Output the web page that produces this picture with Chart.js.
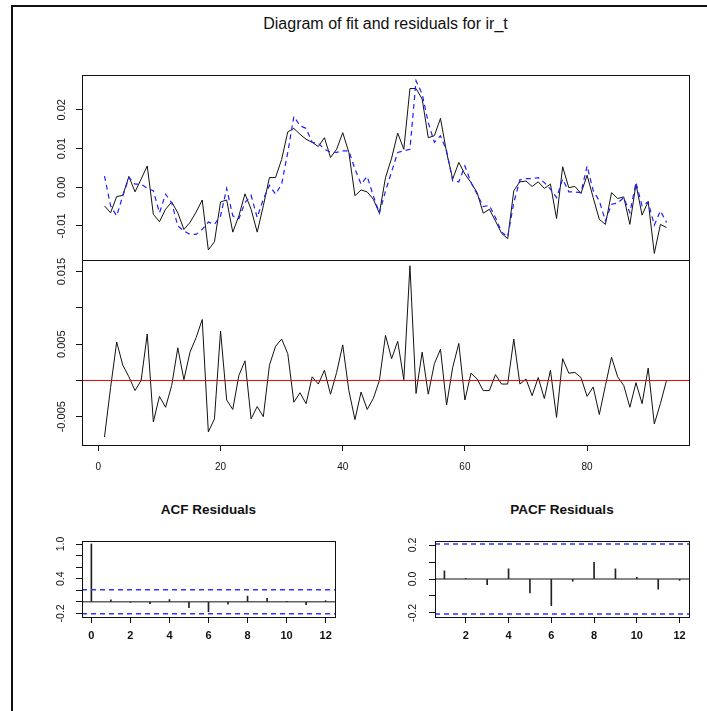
<!DOCTYPE html>
<html>
<head>
<meta charset="utf-8">
<title>Diagram of fit and residuals for ir_t</title>
<script src="https://cdn.jsdelivr.net/npm/chart.js@4.4.1/dist/chart.umd.min.js"></script>
<style>
  html, body { margin: 0; padding: 0; background: #fff; }
  body { position: relative; width: 707px; height: 711px; overflow: hidden; font-family: "Liberation Sans", Arial, sans-serif; color: #111; }
  .frame { position: absolute; left: 11px; top: 5px; width: 760px; height: 760px; border-left: 2px solid #111; border-top: 2px solid #111; }
  canvas { position: absolute; left: 0; top: 0; }
  .title { position: absolute; text-align: center; white-space: nowrap; }
</style>
</head>
<body>
<div class="frame"></div>
<div class="title" style="left:0;width:771px;top:15px;font-size:16px;line-height:18px;">Diagram of fit and residuals for ir_t</div>
<div class="title" style="left:82px;width:253px;top:502px;font-size:13.5px;line-height:16px;font-weight:bold;">ACF Residuals</div>
<div class="title" style="left:435px;width:254px;top:502px;font-size:13.5px;line-height:16px;font-weight:bold;">PACF Residuals</div>
<canvas id="fit" width="707" height="711"></canvas>
<canvas id="res" width="707" height="711"></canvas>
<canvas id="acf" width="707" height="711"></canvas>
<canvas id="pacf" width="707" height="711"></canvas>
<script>
Chart.defaults.font.family = "'Liberation Sans', Arial, sans-serif";
Chart.defaults.color = '#111';

// time index
const t = Array.from({length: 93}, (_, i) => i + 1);

// observed ir_t
const actual = [
  -0.0048, -0.0066, -0.0024, -0.0021, 0.0028, -0.0012, 0.0021, 0.0055, -0.0070, -0.0089,
  -0.0057, -0.0038, -0.0066, -0.0109, -0.0091, -0.0064, -0.0033, -0.0162, -0.0141, -0.0038,
  -0.0033, -0.0116, -0.0074, -0.0017, -0.0057, -0.0116, -0.0048, 0.0025, 0.0025, 0.0072,
  0.0143, 0.0152, 0.0137, 0.0124, 0.0116, 0.0105, 0.0128, 0.0077, 0.0098, 0.0141,
  0.0090, -0.0022, -0.0007, -0.0012, -0.0031, -0.0067, 0.0025, 0.0075, 0.0140, 0.0098,
  0.0255, 0.0255, 0.0228, 0.0128, 0.0133, 0.0178, 0.0090, 0.0021, 0.0064, 0.0034,
  0.0012, -0.0014, -0.0067, -0.0057, -0.0087, -0.0119, -0.0133, -0.0009, 0.0014, 0.0016,
  0.0002, 0.0014, -0.0003, 0.0008, -0.0081, 0.0053, -0.0001, 0.0002, -0.0016, 0.0031,
  -0.0027, -0.0083, -0.0096, -0.0014, -0.0029, -0.0025, -0.0096, 0.0008, -0.0072, -0.0037,
  -0.0171, -0.0096, -0.0104
];

// fitted values
const fitted = [
  0.0029, -0.0048, -0.0074, -0.0022, 0.0025, 0.0008, 0.0008, -0.0003, -0.0009, -0.0066,
  -0.0018, -0.0040, -0.0100, -0.0113, -0.0122, -0.0122, -0.0109, -0.0090, -0.0096, -0.0074,
  -0.0003, -0.0074, -0.0081, -0.0040, -0.0021, -0.0078, -0.0031, 0.0005, -0.0018, 0.0008,
  0.0090, 0.0183, 0.0159, 0.0152, 0.0116, 0.0114, 0.0098, 0.0091, 0.0090, 0.0094,
  0.0094, 0.0047, 0.0008, 0.0028, -0.0022, -0.0067, -0.0010, 0.0040, 0.0090, 0.0094,
  0.0098, 0.0275, 0.0241, 0.0167, 0.0116, 0.0133, 0.0094, 0.0016, 0.0014, 0.0055,
  0.0012, -0.0018, -0.0050, -0.0047, -0.0078, -0.0116, -0.0128, -0.0040, 0.0019, 0.0022,
  0.0022, 0.0025, 0.0012, -0.0005, -0.0027, 0.0021, -0.0012, -0.0012, -0.0014, 0.0055,
  -0.0009, -0.0035, -0.0087, -0.0044, -0.0041, -0.0027, -0.0066, 0.0012, -0.0048, -0.0038,
  -0.0098, -0.0061, -0.0091
];

// residuals
const resid = [
  -0.0078, -0.0010, 0.0053, 0.0021, 0.0005, -0.0014, 0.0000, 0.0064, -0.0057, -0.0022,
  -0.0037, -0.0007, 0.0045, 0.0001, 0.0039, 0.0059, 0.0084, -0.0071, -0.0053, 0.0068,
  -0.0027, -0.0040, 0.0007, 0.0027, -0.0053, -0.0036, -0.0050, 0.0021, 0.0047, 0.0057,
  0.0037, -0.0030, -0.0017, -0.0032, 0.0005, -0.0005, 0.0014, -0.0019, 0.0011, 0.0049,
  -0.0014, -0.0054, -0.0016, -0.0040, -0.0025, 0.0000, 0.0062, 0.0030, 0.0054, 0.0001,
  0.0158, -0.0018, 0.0039, -0.0019, 0.0023, 0.0043, -0.0034, 0.0018, 0.0051, -0.0027,
  0.0010, 0.0002, -0.0014, -0.0014, 0.0008, -0.0005, -0.0005, 0.0057, -0.0005, 0.0002,
  -0.0021, 0.0004, -0.0025, 0.0014, -0.0051, 0.0030, 0.0010, 0.0011, 0.0004, -0.0022,
  -0.0009, -0.0047, -0.0007, 0.0032, 0.0005, -0.0007, -0.0037, -0.0003, -0.0032, 0.0017,
  -0.0060, -0.0032, 0.0000
];

const acfLags = [0, 1, 2, 3, 4, 5, 6, 7, 8, 9, 10, 11, 12];
const acfVals = [1.0, 0.035, -0.005, -0.03, 0.04, -0.10, -0.17, -0.04, 0.10, 0.06, 0.004, -0.05, 0.02];
const pacfLags = [1, 2, 3, 4, 5, 6, 7, 8, 9, 10, 11, 12];
const pacfVals = [0.048, 0.002, -0.033, 0.06, -0.082, -0.157, -0.013, 0.098, 0.06, 0.01, -0.06, -0.008];
const ciBound = 0.207;

// ticks and tick labels
const timeTicks = [0, 20, 40, 60, 80];
const fitTicks = [-0.01, 0, 0.01, 0.02];
const fitLabels = ['-0.01', '0.00', '0.01', '0.02'];
const resTicks = [-0.005, 0, 0.005, 0.01, 0.015];
const resLabels = ['-0.005', '', '0.005', '', '0.015'];
const acfXTicks = [0, 2, 4, 6, 8, 10, 12];
const acfYTicks = [-0.2, 0, 0.2, 0.4, 0.6, 0.8, 1.0];
const acfYLabels = ['-0.2', '', '', '0.4', '', '', '1.0'];
const pacfXTicks = [2, 4, 6, 8, 10, 12];
const pacfYTicks = [-0.2, -0.1, 0, 0.1, 0.2];
const pacfYLabels = ['-0.2', '', '0.0', '', '0.2'];

const pts = (xs, ys) => ys.map((y, i) => ({x: xs[i], y: y}));

// box around the plot area + R style vertical tick labels
function frame(ticks, labels, dx, font) {
  return {
    id: 'frame',
    afterDraw(chart) {
      const ctx = chart.ctx, a = chart.chartArea, sc = chart.scales.y;
      ctx.save();
      ctx.strokeStyle = '#111';
      ctx.lineWidth = 1;
      ctx.strokeRect(Math.round(a.left) + 0.5, Math.round(a.top) + 0.5,
        Math.round(a.right - a.left), Math.round(a.bottom - a.top));
      ctx.fillStyle = '#111';
      ctx.font = font;
      ctx.textAlign = 'center';
      ctx.textBaseline = 'middle';
      ticks.forEach((v, i) => {
        if (!labels[i]) return;
        ctx.save();
        ctx.translate(a.left - dx, sc.getPixelForValue(v));
        ctx.rotate(-Math.PI / 2);
        ctx.fillText(labels[i], 0, 0);
        ctx.restore();
      });
      ctx.restore();
    }
  };
}

// horizontal reference lines (zero line, confidence bounds)
function hlines(lines) {
  return {
    id: 'hlines',
    afterDatasetsDraw(chart) {
      const ctx = chart.ctx, a = chart.chartArea, sc = chart.scales.y;
      ctx.save();
      lines.forEach(l => {
        const y = sc.getPixelForValue(l.value);
        ctx.beginPath();
        ctx.strokeStyle = l.color;
        ctx.lineWidth = l.width || 1;
        ctx.setLineDash(l.dash || []);
        ctx.moveTo(a.left, y);
        ctx.lineTo(a.right, y);
        ctx.stroke();
      });
      ctx.restore();
    }
  };
}

function yAxis(min, max, ticks, width) {
  return {
    min: min, max: max,
    afterBuildTicks: s => { s.ticks = ticks.map(v => ({value: v})); },
    afterFit: s => { s.width = width; },
    ticks: {display: false},
    grid: {drawOnChartArea: false, tickLength: 6, color: '#111'},
    border: {display: false}
  };
}

function xAxis(min, max, ticks, font, pad) {
  return {
    type: 'linear', min: min, max: max, offset: false,
    afterBuildTicks: s => { s.ticks = ticks.map(v => ({value: v})); },
    afterFit: s => { s.height = 30; },
    ticks: {font: font, color: '#111', padding: pad, autoSkip: false, maxRotation: 0},
    grid: {drawOnChartArea: false, offset: false, tickLength: 6, color: '#111'},
    border: {display: false}
  };
}

const base = {
  responsive: false,
  animation: false,
  events: [],
  plugins: {legend: {display: false}, tooltip: {enabled: false}}
};

// fit panel
new Chart(document.getElementById('fit'), {
  type: 'line',
  data: {
    datasets: [
      {data: pts(t, actual), borderColor: '#111', borderWidth: 1, pointRadius: 0, order: 2},
      {data: pts(t, fitted), borderColor: 'rgb(30,30,255)', borderWidth: 1.2, borderDash: [5, 4], pointRadius: 0, order: 1}
    ]
  },
  options: Object.assign({}, base, {
    layout: {padding: {left: 0, top: 75, right: 18, bottom: 451}},
    scales: {
      x: {type: 'linear', display: false, min: -2.68, max: 96.68},
      y: yAxis(-0.0188, 0.0290, fitTicks, 82)
    }
  }),
  plugins: [frame(fitTicks, fitLabels, 20, "11px 'Liberation Sans', Arial, sans-serif")]
});

// residual panel
new Chart(document.getElementById('res'), {
  type: 'line',
  data: {
    datasets: [
      {data: pts(t, resid), borderColor: '#111', borderWidth: 1, pointRadius: 0}
    ]
  },
  options: Object.assign({}, base, {
    layout: {padding: {left: 0, top: 260, right: 18, bottom: 236}},
    scales: {
      x: xAxis(-2.68, 96.68, timeTicks, {size: 10}, 10),
      y: yAxis(-0.0089, 0.0166, resTicks, 82)
    }
  }),
  plugins: [hlines([{value: 0, color: 'rgb(225,0,0)', width: 1}]),
            frame(resTicks, resLabels, 20, "11px 'Liberation Sans', Arial, sans-serif")]
});

// ACF panel
new Chart(document.getElementById('acf'), {
  type: 'bar',
  data: {
    datasets: [
      {data: pts(acfLags, acfVals), backgroundColor: '#222', barThickness: 1}
    ]
  },
  options: Object.assign({}, base, {
    layout: {padding: {left: 0, top: 541, right: 372, bottom: 64}},
    scales: {
      x: xAxis(-0.48, 12.48, acfXTicks, {size: 11, weight: 'bold'}, 6),
      y: yAxis(-0.262, 1.052, acfYTicks, 82)
    }
  }),
  plugins: [hlines([
              {value: 0, color: '#111', width: 1},
              {value: ciBound, color: 'rgb(50,50,255)', width: 1.5, dash: [5, 4]},
              {value: -ciBound, color: 'rgb(50,50,255)', width: 1.5, dash: [5, 4]}
            ]),
            frame(acfYTicks, acfYLabels, 21, "10.5px 'Liberation Sans', Arial, sans-serif")]
});

// PACF panel
new Chart(document.getElementById('pacf'), {
  type: 'bar',
  data: {
    datasets: [
      {data: pts(pacfLags, pacfVals), backgroundColor: '#222', barThickness: 1}
    ]
  },
  options: Object.assign({}, base, {
    layout: {padding: {left: 0, top: 541, right: 18, bottom: 64}},
    scales: {
      x: xAxis(0.56, 12.44, pacfXTicks, {size: 11, weight: 'bold'}, 6),
      y: yAxis(-0.224, 0.224, pacfYTicks, 435)
    }
  }),
  plugins: [hlines([
              {value: 0, color: '#111', width: 1},
              {value: ciBound, color: 'rgb(50,50,255)', width: 1.5, dash: [5, 4]},
              {value: -ciBound, color: 'rgb(50,50,255)', width: 1.5, dash: [5, 4]}
            ]),
            frame(pacfYTicks, pacfYLabels, 22, "10.5px 'Liberation Sans', Arial, sans-serif")]
});
</script>
</body>
</html>
